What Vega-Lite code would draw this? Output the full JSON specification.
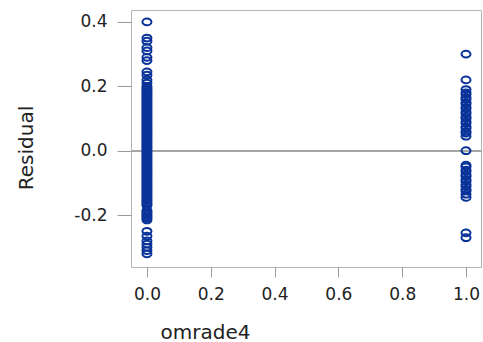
{
  "$schema": "https://vega.github.io/schema/vega-lite/v6.json",
  "autosize": {"type": "none"},
  "width": 350,
  "height": 257,
  "padding": {"left": 131, "top": 10, "right": 2, "bottom": 75},
  "background": "white",
  "config": {
    "view": {"stroke": "#b4b4b4", "strokeWidth": 1},
    "axis": {
      "grid": false,
      "domain": false,
      "tickColor": "#9a9a9a",
      "tickWidth": 1,
      "labelFont": "DejaVu Sans",
      "labelFontSize": 17,
      "labelColor": "#222222",
      "titleFont": "DejaVu Sans",
      "titleFontSize": 20,
      "titleFontWeight": "normal",
      "titleColor": "#222222"
    }
  },
  "data": {
    "values": [
      {"omrade4": 0, "Residual": 0.40},
      {"omrade4": 0, "Residual": 0.35},
      {"omrade4": 0, "Residual": 0.34},
      {"omrade4": 0, "Residual": 0.32},
      {"omrade4": 0, "Residual": 0.31},
      {"omrade4": 0, "Residual": 0.29},
      {"omrade4": 0, "Residual": 0.28},
      {"omrade4": 0, "Residual": 0.245},
      {"omrade4": 0, "Residual": 0.235},
      {"omrade4": 0, "Residual": 0.22},
      {"omrade4": 0, "Residual": 0.21},
      {"omrade4": 0, "Residual": 0.20},
      {"omrade4": 0, "Residual": 0.195},
      {"omrade4": 0, "Residual": 0.19},
      {"omrade4": 0, "Residual": 0.185},
      {"omrade4": 0, "Residual": 0.18},
      {"omrade4": 0, "Residual": 0.175},
      {"omrade4": 0, "Residual": 0.17},
      {"omrade4": 0, "Residual": 0.165},
      {"omrade4": 0, "Residual": 0.16},
      {"omrade4": 0, "Residual": 0.155},
      {"omrade4": 0, "Residual": 0.15},
      {"omrade4": 0, "Residual": 0.145},
      {"omrade4": 0, "Residual": 0.14},
      {"omrade4": 0, "Residual": 0.135},
      {"omrade4": 0, "Residual": 0.13},
      {"omrade4": 0, "Residual": 0.125},
      {"omrade4": 0, "Residual": 0.12},
      {"omrade4": 0, "Residual": 0.115},
      {"omrade4": 0, "Residual": 0.11},
      {"omrade4": 0, "Residual": 0.105},
      {"omrade4": 0, "Residual": 0.10},
      {"omrade4": 0, "Residual": 0.095},
      {"omrade4": 0, "Residual": 0.09},
      {"omrade4": 0, "Residual": 0.085},
      {"omrade4": 0, "Residual": 0.08},
      {"omrade4": 0, "Residual": 0.075},
      {"omrade4": 0, "Residual": 0.07},
      {"omrade4": 0, "Residual": 0.065},
      {"omrade4": 0, "Residual": 0.06},
      {"omrade4": 0, "Residual": 0.055},
      {"omrade4": 0, "Residual": 0.05},
      {"omrade4": 0, "Residual": 0.045},
      {"omrade4": 0, "Residual": 0.04},
      {"omrade4": 0, "Residual": 0.035},
      {"omrade4": 0, "Residual": 0.03},
      {"omrade4": 0, "Residual": 0.025},
      {"omrade4": 0, "Residual": 0.02},
      {"omrade4": 0, "Residual": 0.015},
      {"omrade4": 0, "Residual": 0.01},
      {"omrade4": 0, "Residual": 0.005},
      {"omrade4": 0, "Residual": 0.00},
      {"omrade4": 0, "Residual": -0.005},
      {"omrade4": 0, "Residual": -0.01},
      {"omrade4": 0, "Residual": -0.015},
      {"omrade4": 0, "Residual": -0.02},
      {"omrade4": 0, "Residual": -0.025},
      {"omrade4": 0, "Residual": -0.03},
      {"omrade4": 0, "Residual": -0.035},
      {"omrade4": 0, "Residual": -0.04},
      {"omrade4": 0, "Residual": -0.045},
      {"omrade4": 0, "Residual": -0.05},
      {"omrade4": 0, "Residual": -0.055},
      {"omrade4": 0, "Residual": -0.06},
      {"omrade4": 0, "Residual": -0.065},
      {"omrade4": 0, "Residual": -0.07},
      {"omrade4": 0, "Residual": -0.075},
      {"omrade4": 0, "Residual": -0.08},
      {"omrade4": 0, "Residual": -0.085},
      {"omrade4": 0, "Residual": -0.09},
      {"omrade4": 0, "Residual": -0.095},
      {"omrade4": 0, "Residual": -0.10},
      {"omrade4": 0, "Residual": -0.105},
      {"omrade4": 0, "Residual": -0.11},
      {"omrade4": 0, "Residual": -0.115},
      {"omrade4": 0, "Residual": -0.12},
      {"omrade4": 0, "Residual": -0.125},
      {"omrade4": 0, "Residual": -0.13},
      {"omrade4": 0, "Residual": -0.135},
      {"omrade4": 0, "Residual": -0.14},
      {"omrade4": 0, "Residual": -0.145},
      {"omrade4": 0, "Residual": -0.15},
      {"omrade4": 0, "Residual": -0.155},
      {"omrade4": 0, "Residual": -0.16},
      {"omrade4": 0, "Residual": -0.165},
      {"omrade4": 0, "Residual": -0.17},
      {"omrade4": 0, "Residual": -0.185},
      {"omrade4": 0, "Residual": -0.19},
      {"omrade4": 0, "Residual": -0.195},
      {"omrade4": 0, "Residual": -0.20},
      {"omrade4": 0, "Residual": -0.205},
      {"omrade4": 0, "Residual": -0.21},
      {"omrade4": 0, "Residual": -0.215},
      {"omrade4": 0, "Residual": -0.25},
      {"omrade4": 0, "Residual": -0.265},
      {"omrade4": 0, "Residual": -0.28},
      {"omrade4": 0, "Residual": -0.29},
      {"omrade4": 0, "Residual": -0.30},
      {"omrade4": 0, "Residual": -0.31},
      {"omrade4": 0, "Residual": -0.32},
      {"omrade4": 1, "Residual": 0.30},
      {"omrade4": 1, "Residual": 0.22},
      {"omrade4": 1, "Residual": 0.19},
      {"omrade4": 1, "Residual": 0.18},
      {"omrade4": 1, "Residual": 0.175},
      {"omrade4": 1, "Residual": 0.165},
      {"omrade4": 1, "Residual": 0.16},
      {"omrade4": 1, "Residual": 0.15},
      {"omrade4": 1, "Residual": 0.145},
      {"omrade4": 1, "Residual": 0.135},
      {"omrade4": 1, "Residual": 0.13},
      {"omrade4": 1, "Residual": 0.12},
      {"omrade4": 1, "Residual": 0.115},
      {"omrade4": 1, "Residual": 0.105},
      {"omrade4": 1, "Residual": 0.10},
      {"omrade4": 1, "Residual": 0.09},
      {"omrade4": 1, "Residual": 0.085},
      {"omrade4": 1, "Residual": 0.075},
      {"omrade4": 1, "Residual": 0.07},
      {"omrade4": 1, "Residual": 0.06},
      {"omrade4": 1, "Residual": 0.055},
      {"omrade4": 1, "Residual": 0.045},
      {"omrade4": 1, "Residual": 0.00},
      {"omrade4": 1, "Residual": -0.045},
      {"omrade4": 1, "Residual": -0.05},
      {"omrade4": 1, "Residual": -0.06},
      {"omrade4": 1, "Residual": -0.065},
      {"omrade4": 1, "Residual": -0.075},
      {"omrade4": 1, "Residual": -0.08},
      {"omrade4": 1, "Residual": -0.09},
      {"omrade4": 1, "Residual": -0.095},
      {"omrade4": 1, "Residual": -0.105},
      {"omrade4": 1, "Residual": -0.11},
      {"omrade4": 1, "Residual": -0.12},
      {"omrade4": 1, "Residual": -0.125},
      {"omrade4": 1, "Residual": -0.135},
      {"omrade4": 1, "Residual": -0.145},
      {"omrade4": 1, "Residual": -0.255},
      {"omrade4": 1, "Residual": -0.27}
    ]
  },
  "layer": [
    {
      "mark": {"type": "rule", "color": "#a6a6a6", "strokeWidth": 1},
      "encoding": {"y": {"datum": 0, "type": "quantitative"}}
    },
    {
      "mark": {
        "type": "point",
        "shape": "M -1 0 A 1 0.75 0 1 0 1 0 A 1 0.75 0 1 0 -1 0 Z",
        "filled": false,
        "size": 81,
        "strokeWidth": 2,
        "color": "#0a3399",
        "opacity": 1
      },
      "encoding": {
        "x": {
          "field": "omrade4",
          "type": "quantitative",
          "scale": {"domain": [-0.05, 1.047], "nice": false, "zero": false},
          "axis": {
            "values": [0, 0.2, 0.4, 0.6, 0.8, 1.0],
            "format": ".1f",
            "tickSize": 10,
            "labelPadding": 9,
            "title": "omrade4",
            "titleX": 74,
            "titleY": 71,
            "titleBaseline": "alphabetic",
            "titleAlign": "center"
          }
        },
        "y": {
          "field": "Residual",
          "type": "quantitative",
          "scale": {"domain": [-0.361, 0.437], "nice": false, "zero": false},
          "axis": {
            "values": [-0.2, 0, 0.2, 0.4],
            "labelExpr": "(datum.value < 0 ? '-' : '') + format(abs(datum.value), '.1f')",
            "tickSize": 14,
            "labelPadding": 10,
            "title": "Residual",
            "titleX": -99,
            "titleY": 137.5,
            "titleAngle": -90,
            "titleBaseline": "alphabetic",
            "titleAlign": "center"
          }
        }
      }
    }
  ]
}
